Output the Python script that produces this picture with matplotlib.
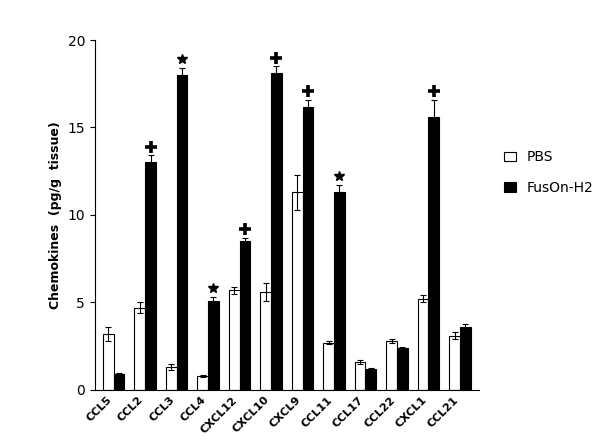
import matplotlib.pyplot as plt
import numpy as np

categories = ["CCL5", "CCL2", "CCL3", "CCL4", "CXCL12", "CXCL10", "CXCL9",
              "CCL11", "CCL17", "CCL22", "CXCL1", "CCL21"]
pbs = [3.2, 4.7, 1.3, 0.8, 5.7, 5.6, 11.3, 2.7, 1.6, 2.8, 5.2, 3.1]
pbs_err = [0.4, 0.3, 0.15, 0.05, 0.2, 0.5, 1.0, 0.1, 0.1, 0.1, 0.2, 0.2]
fus = [0.9, 13.0, 18.0, 5.1, 8.5, 18.1, 16.2, 11.3, 1.2, 2.4, 15.6, 3.6]
fus_err = [0.05, 0.4, 0.4, 0.2, 0.2, 0.4, 0.4, 0.4, 0.05, 0.05, 1.0, 0.15]
marks = ["", "+", "*", "*", "+", "+", "+", "*", "", "", "+", ""]

fig = plt.figure(figsize=(6, 4.45), dpi=100)
ax = fig.add_axes([0.158, 0.124, 0.64, 0.786])

x = np.arange(len(categories))
w = 0.34
ax.bar(x - w/2, pbs, w, color="white", edgecolor="black", linewidth=0.8,
       yerr=pbs_err, error_kw=dict(capsize=2, elinewidth=0.8, capthick=0.8), label="PBS")
ax.bar(x + w/2, fus, w, color="black", edgecolor="black", linewidth=0.8,
       yerr=fus_err, error_kw=dict(capsize=2, elinewidth=0.8, capthick=0.8), label="FusOn-H2")

# marcadores de significancia acima das barras
for xi, v, e, m in zip(x, fus, fus_err, marks):
    if m == "+":
        ax.plot(xi + w/2, v + e + 0.5, marker="+", color="black", markersize=8, mew=2.6)
    elif m == "*":
        ax.plot(xi + w/2, v + e + 0.5, marker="*", color="black", markersize=7)

ax.set_ylim(0, 20)
ax.set_xlim(-0.6, len(categories) - 0.4)
ax.set_yticks([0, 5, 10, 15, 20])
ax.set_xticks(x)
ax.set_xticklabels(categories, rotation=45, ha="right", fontweight="bold", fontsize=8)
ax.set_ylabel("Chemokines  (pg/g  tissue)", fontweight="bold", fontsize=9)
ax.tick_params(axis="x", length=0)
ax.tick_params(axis="y", labelsize=10)
ax.spines["top"].set_visible(False)
ax.spines["right"].set_visible(False)

fig.legend(loc="upper left", bbox_to_anchor=(0.82, 0.69), frameon=False,
           fontsize=10, handlelength=0.8, labelspacing=1.2)

fig.savefig("out.png", dpi=100)
